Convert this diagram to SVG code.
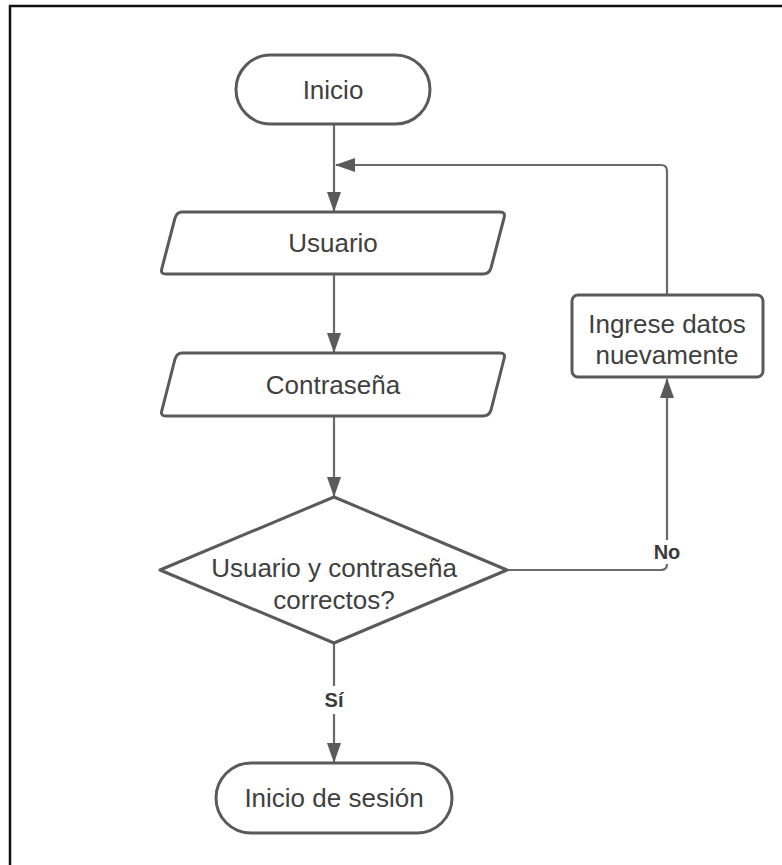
<svg xmlns="http://www.w3.org/2000/svg" width="782" height="865" viewBox="0 0 782 865">
<defs>
<style>
.shape{fill:#ffffff;stroke:#5a5a5a;stroke-width:3;stroke-linejoin:round}
.conn{fill:none;stroke:#6a6a6a;stroke-width:2.2}
.t{font-family:"Liberation Sans",Arial,sans-serif;font-size:26px;fill:#404040;text-anchor:middle;dominant-baseline:central}
.lbl{font-family:"Liberation Sans",Arial,sans-serif;font-size:20px;font-weight:bold;fill:#3a3a3a;text-anchor:middle;dominant-baseline:central}
</style>
<marker id="arr" markerUnits="userSpaceOnUse" markerWidth="20" markerHeight="14" refX="19" refY="7" orient="auto">
<path d="M0,0 L20,7 L0,14 z" fill="#5a5a5a"/>
</marker>
</defs>
<rect width="782" height="865" fill="#ffffff"/>
<path d="M10,865 L10,6 L782,6" fill="none" stroke="#111111" stroke-width="2.5"/>
<g id="connectors">
<path class="conn" d="M334,124 L334,211" marker-end="url(#arr)"/>
<path class="conn" d="M667,295 L667,171 Q667,165 661,165 L336,165" marker-end="url(#arr)"/>
<path class="conn" d="M334,274 L334,352" marker-end="url(#arr)"/>
<path class="conn" d="M334,416 L334,496" marker-end="url(#arr)"/>
<path class="conn" d="M334,643 L334,686 M334,714 L334,762" marker-end="url(#arr)"/>
<path class="conn" d="M507,570 L661,570 Q667,570 667,564 L667,379" marker-end="url(#arr)"/>
<rect x="652" y="540" width="30" height="24" fill="#ffffff"/>
<text class="lbl" x="667" y="552">No</text>
<text class="lbl" x="334" y="700">Sí</text>
</g>
<g id="inicio">
<rect class="shape" x="236" y="55" width="194" height="69" rx="34.5"/>
<text class="t" x="333" y="90">Inicio</text>
</g>
<g id="usuario">
<path class="shape" d="M182,212 L500,212 Q506,212 504,218 L491,268 Q489,274 483,274 L166,274 Q160,274 162,268 L175,218 Q177,212 182,212 Z"/>
<text class="t" x="333" y="243">Usuario</text>
</g>
<g id="contrasena">
<path class="shape" d="M182,353 L500,353 Q506,353 504,359 L491,410 Q489,416 483,416 L166,416 Q160,416 162,410 L175,359 Q177,353 182,353 Z"/>
<text class="t" x="333" y="385">Contraseña</text>
</g>
<g id="decision">
<polygon class="shape" points="334,497 507,570 334,643 160,570"/>
<text class="t" x="334" y="568">Usuario y contraseña</text>
<text class="t" x="334" y="600">correctos?</text>
</g>
<g id="ingrese">
<rect class="shape" x="572" y="295" width="191" height="82" rx="6"/>
<text class="t" x="667" y="324">Ingrese datos</text>
<text class="t" x="667" y="355">nuevamente</text>
</g>
<g id="inicio-sesion">
<rect class="shape" x="216" y="763" width="236" height="70" rx="35"/>
<text class="t" x="334" y="798">Inicio de sesión</text>
</g>
</svg>
